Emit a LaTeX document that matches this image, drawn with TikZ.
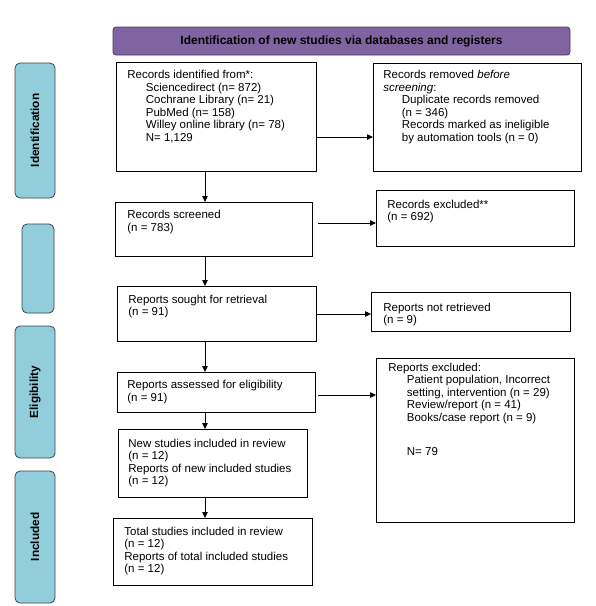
\documentclass[tikz,border=0pt]{standalone}
\usepackage{fontspec}
\setmainfont{Liberation Sans}
\usetikzlibrary{arrows.meta}
\definecolor{purplebar}{HTML}{8064A2}
\definecolor{purpleedge}{HTML}{4A3B5E}
\definecolor{bluebar}{HTML}{92CDDC}
\definecolor{blueedge}{HTML}{31474D}
\newcommand\boxtext[4]{\begin{minipage}[t][#2pt][t]{#1pt}\raggedright\vspace*{\dimexpr#3pt-8.75pt\relax}\strut #4\end{minipage}}
\newcommand\ind{\hspace*{18.5pt}}
\tikzset{
  pbox/.style={draw, line width=0.8pt, inner ysep=0pt, anchor=north west,
    font=\fontsize{11.5}{12.5}\selectfont},
  sidebar/.style={draw=blueedge, fill=bluebar, line width=0.8pt, rounded corners=5pt,
    rotate=90, inner sep=0pt, font=\fontsize{11.8}{13}\selectfont\bfseries},
  titlebar/.style={draw=purpleedge, fill=purplebar, line width=0.8pt, rounded corners=3pt,
    inner sep=0pt, font=\fontsize{12}{13}\selectfont\bfseries},
  arr/.style={line width=0.8pt, -{Triangle[length=6pt,width=5.5pt]}}
}
\begin{document}
\begin{tikzpicture}[x=1pt,y=-1pt]
\useasboundingbox (0,0) rectangle (596,606);
% title
\node[titlebar, minimum width=457pt, minimum height=28pt] (title) at (341.5,41)
  {Identification of new studies via databases and registers};
% side bars
\node[sidebar, minimum width=135pt, minimum height=40pt] (sid) at (35,130.5) {Identification};
\node[sidebar, minimum width=89pt, minimum height=32pt] (sblank) at (38,268.5) {};
\node[sidebar, minimum width=132pt, minimum height=40pt] (selig) at (35,392) {Eligibility};
\node[sidebar, minimum width=132pt, minimum height=40pt] (sincl) at (35,537) {Included};
% boxes
\node[pbox, inner xsep=11pt] (b1) at (116,62) {\boxtext{178}{109}{16.5}{Records identified from*:\\
  \ind Sciencedirect (n= 872)\\
  \ind Cochrane Library (n= 21)\\
  \ind PubMed (n= 158)\\
  \ind Willey online library (n= 78)\\
  \ind N= 1,129}};
\node[pbox, inner xsep=10pt] (rem) at (373,63) {\boxtext{188}{108}{15.5}{Records removed \textit{before}\\
  \textit{screening}:\\
  \ind Duplicate records removed\\
  \ind (n = 346)\\
  \ind Records marked as ineligible\\
  \ind by automation tools (n = 0)}};
\node[pbox, inner xsep=12pt] (scr) at (115,202) {\boxtext{173}{54}{16.5}{Records screened\\ (n = 783)}};
\node[pbox, inner xsep=11pt] (exc) at (376,190) {\boxtext{176}{56}{18}{Records excluded**\\ (n = 692)}};
\node[pbox, inner xsep=11pt] (sou) at (117,286) {\boxtext{177}{55}{17}{Reports sought for retrieval\\ (n = 91)}};
\node[pbox, inner xsep=12pt] (nr) at (371,292) {\boxtext{175}{39}{19}{Reports not retrieved\\ (n = 9)}};
\node[pbox, inner xsep=10pt] (ass) at (117,372) {\boxtext{178}{40}{16.5}{Reports assessed for eligibility\\ (n = 91)}};
\node[pbox, inner xsep=12pt] (rex) at (376,358) {\boxtext{174}{164}{13}{Reports excluded:\\
  \ind Patient population, Incorrect\\
  \ind setting, intervention (n = 29)\\
  \ind Review/report (n = 41)\\
  \ind Books/case report (n = 9)\\[22pt]
  \ind N= 79}};
\node[pbox, inner xsep=10pt] (new) at (118,429) {\boxtext{169}{68}{18}{New studies included in review\\
  (n = 12)\\
  Reports of new included studies\\
  (n = 12)}};
\node[pbox, inner xsep=11pt] (tot) at (113,518) {\boxtext{177}{67}{17}{Total studies included in review\\
  (n = 12)\\
  Reports of total included studies\\
  (n = 12)}};
% connectors
\coordinate (vx) at (205,0);
\coordinate (c1) at (0,137);
\coordinate (c2) at (0,223);
\coordinate (c3) at (0,314);
\coordinate (c4) at (0,395);
\draw[arr] (b1.east |- c1) -- (rem.west |- c1);
\draw[arr, shorten <=5pt] (scr.east |- c2) -- (exc.west |- c2);
\draw[arr] (sou.east |- c3) -- (nr.west |- c3);
\draw[arr, shorten <=2pt] (ass.east |- c4) -- (rex.west |- c4);
\draw[arr] (b1.south -| vx) -- (scr.north -| vx);
\draw[arr] (scr.south -| vx) -- (sou.north -| vx);
\draw[arr] (sou.south -| vx) -- (ass.north -| vx);
\draw[arr] (ass.south -| vx) -- (new.north -| vx);
\draw[arr] (new.south -| vx) -- (tot.north -| vx);
\end{tikzpicture}
\end{document}
